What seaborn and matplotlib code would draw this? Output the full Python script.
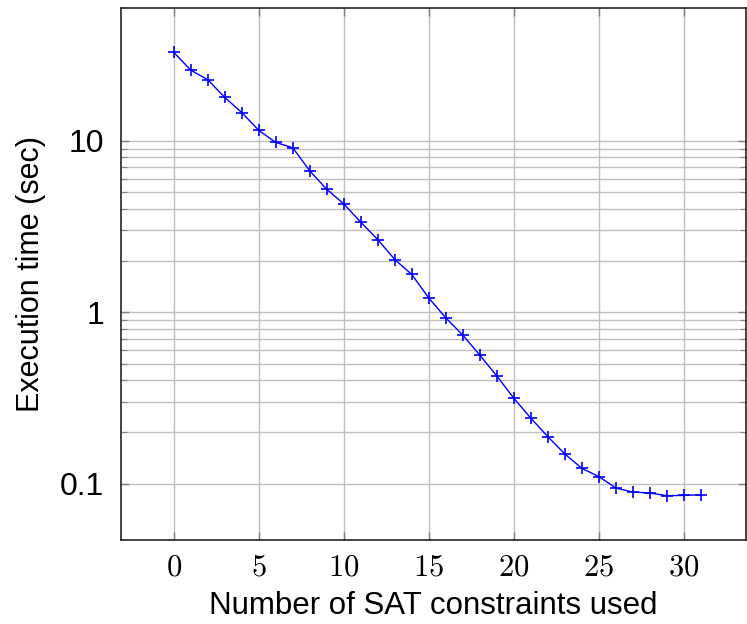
import numpy as np
import pandas as pd
import seaborn as sns
import matplotlib.pyplot as plt
from matplotlib.ticker import FixedLocator, NullFormatter

# Data
constraints = list(range(32))
exec_time = [32.8, 25.8, 22.7, 17.9, 14.6, 11.5, 9.78, 9.1, 6.67, 5.21,
             4.28, 3.35, 2.65, 2.03, 1.66, 1.21, 0.927, 0.735, 0.562, 0.425,
             0.315, 0.241, 0.188, 0.149, 0.123, 0.110, 0.0944, 0.0894, 0.0883, 0.0852,
             0.0855, 0.0863]
x_ticks = [0, 5, 10, 15, 20, 25, 30]
y_ticks = [0.1, 1, 10]
y_tick_labels = ["0.1", "1", "10"]
# minor ticks only between the major decades (pgfplots style)
y_minor = [0.2, 0.3, 0.4, 0.5, 0.6, 0.7, 0.8, 0.9,
           2, 3, 4, 5, 6, 7, 8, 9]

df = pd.DataFrame({"constraints": constraints, "time": exec_time})

sns.set_style("white")
plt.rcParams['font.family'] = ['Liberation Sans', 'DejaVu Sans']
plt.rcParams['mathtext.fontset'] = 'cm'
plt.rcParams['text.color'] = 'black'
plt.rcParams['axes.labelcolor'] = 'black'
plt.rcParams['xtick.labelcolor'] = 'black'
plt.rcParams['ytick.labelcolor'] = 'black'

fig = plt.figure(figsize=(7.47, 6.24), dpi=100)
ax = fig.add_axes([121 / 747, 84 / 624, 625 / 747, 532 / 624])

sns.lineplot(data=df, x="constraints", y="time", ax=ax, color="blue",
             linewidth=1.0, marker="+", markersize=9, markeredgewidth=1.2,
             markeredgecolor="blue")

ax.set_yscale("log")
ax.set_xlim(-3.1, 33.65)
ax.set_ylim(10 ** -1.328, 10 ** 1.774)

ax.xaxis.set_major_locator(FixedLocator(x_ticks))
ax.set_xticklabels([f"${t}$" for t in x_ticks], fontsize=22)
ax.yaxis.set_major_locator(FixedLocator(y_ticks))
ax.set_yticklabels(y_tick_labels, fontsize=23)
ax.yaxis.set_minor_locator(FixedLocator(y_minor))
ax.yaxis.set_minor_formatter(NullFormatter())

ax.grid(True, which="major", axis="both", color="#bfbfbf", linewidth=1.0)
ax.grid(True, which="minor", axis="y", color="#bfbfbf", linewidth=1.0)
ax.set_axisbelow(True)

ax.tick_params(axis="both", which="both", direction="in", color="#808080",
               labelcolor="black", top=True, right=True, left=True, bottom=True)
ax.tick_params(axis="x", which="major", length=6, width=1.0, pad=9)
ax.tick_params(axis="y", which="major", length=6, width=1.0, pad=12)
ax.tick_params(axis="y", which="minor", length=4, width=0.8)

for side in ax.spines.values():
    side.set_color("#222222")
    side.set_linewidth(1.2)

ax.set_xlabel("Number of SAT constraints used", fontsize=22.5, labelpad=6,
              color="black")
ax.set_ylabel("Execution time (sec)", fontsize=22, labelpad=10, color="black")

fig.savefig("out.png", dpi=100)
